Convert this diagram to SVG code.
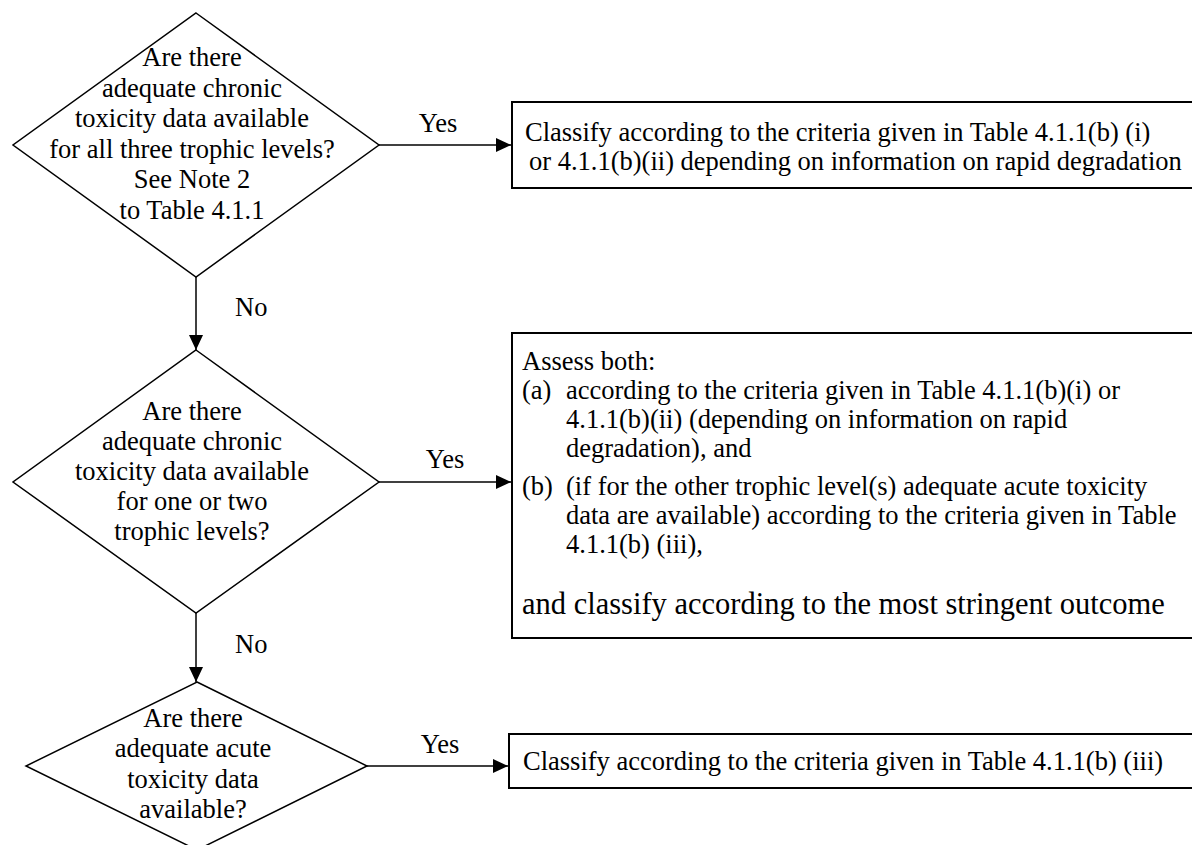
<svg xmlns="http://www.w3.org/2000/svg" width="1192" height="845" viewBox="0 0 1192 845">
<style>
  .t { font-family: "Liberation Serif", "Times New Roman", serif; font-size: 26.5px; fill: #000; }
  .c { text-anchor: middle; }
  .b { font-family: "Liberation Serif", "Times New Roman", serif; font-size: 26.5px; fill: #000; }
  .big { font-size: 30.5px; }
  .shape { fill: #fff; stroke: #000; stroke-width: 1.5; }
  .box { fill: #fff; stroke: #000; stroke-width: 2; }
  .conn { fill: none; stroke: #000; stroke-width: 1.5; }
</style>
<defs>
  <marker id="arr" markerUnits="userSpaceOnUse" markerWidth="16" markerHeight="14" refX="15" refY="7" orient="auto">
    <path d="M0,0 L15,7 L0,14 z" fill="#000"/>
  </marker>
</defs>
<rect width="1192" height="845" fill="#fff"/>

<g id="connectors">
  <path class="conn" d="M196,277 V350" marker-end="url(#arr)"/>
  <path class="conn" d="M196,613 V682" marker-end="url(#arr)"/>
  <path class="conn" d="M379,145 H511" marker-end="url(#arr)"/>
  <path class="conn" d="M379,482 H511" marker-end="url(#arr)"/>
  <path class="conn" d="M367,766 H508" marker-end="url(#arr)"/>
  <text class="t" x="235" y="316">No</text>
  <text class="t" x="235" y="653">No</text>
  <text class="t c" x="438" y="132">Yes</text>
  <text class="t c" x="445" y="468">Yes</text>
  <text class="t c" x="440" y="753">Yes</text>
</g>

<g id="d1">
  <polygon class="shape" points="196,13 379,145 196,277 13,145"/>
  <text class="t c" x="192" y="66">Are there</text>
  <text class="t c" x="192" y="96.5">adequate chronic</text>
  <text class="t c" x="192" y="127">toxicity data available</text>
  <text class="t c" x="192" y="157.5">for all three trophic levels?</text>
  <text class="t c" x="192" y="188">See Note 2</text>
  <text class="t c" x="192" y="218.5">to Table 4.1.1</text>
</g>

<g id="d2">
  <polygon class="shape" points="196,350 379,482 196,613 13,482"/>
  <text class="t c" x="192" y="420">Are there</text>
  <text class="t c" x="192" y="450">adequate chronic</text>
  <text class="t c" x="192" y="480">toxicity data available</text>
  <text class="t c" x="192" y="510">for one or two</text>
  <text class="t c" x="192" y="540">trophic levels?</text>
</g>

<g id="d3">
  <polygon class="shape" points="197,682 367,766 197,850 26,766"/>
  <text class="t c" x="193" y="727">Are there</text>
  <text class="t c" x="193" y="757">adequate acute</text>
  <text class="t c" x="193" y="788">toxicity data</text>
  <text class="t c" x="193" y="818">available?</text>
</g>

<g id="box1">
  <rect class="box" x="512" y="102" width="700" height="86"/>
  <text class="b" x="525" y="141">Classify according to the criteria given in Table 4.1.1(b) (i)</text>
  <text class="b" x="529" y="170">or 4.1.1(b)(ii) depending on information on rapid degradation</text>
</g>

<g id="box2">
  <rect class="box" x="512" y="333" width="700" height="305"/>
  <text class="b" x="522" y="370">Assess both:</text>
  <text class="b" x="522" y="399">(a)</text>
  <text class="b" x="566" y="399">according to the criteria given in Table 4.1.1(b)(i) or</text>
  <text class="b" x="566" y="428">4.1.1(b)(ii) (depending on information on rapid</text>
  <text class="b" x="566" y="457">degradation), and</text>
  <text class="b" x="522" y="495">(b)</text>
  <text class="b" x="566" y="495">(if for the other trophic level(s) adequate acute toxicity</text>
  <text class="b" x="566" y="524">data are available) according to the criteria given in Table</text>
  <text class="b" x="566" y="553">4.1.1(b) (iii),</text>
  <text class="b big" x="522" y="614">and classify according to the most stringent outcome</text>
</g>

<g id="box3">
  <rect class="box" x="509" y="734" width="700" height="54"/>
  <text class="b" x="523" y="770">Classify according to the criteria given in Table 4.1.1(b) (iii)</text>
</g>
</svg>
